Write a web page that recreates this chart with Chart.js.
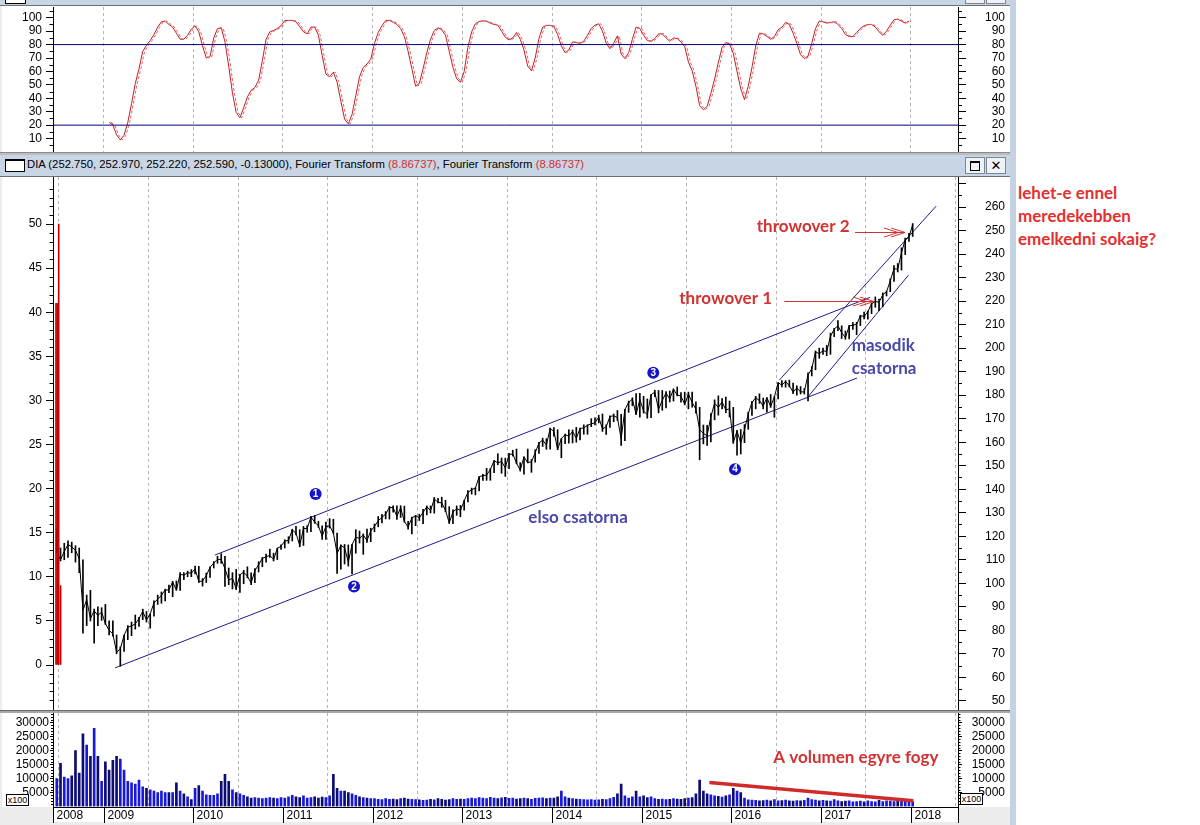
<!DOCTYPE html>
<html>
<head>
<meta charset="utf-8">
<title>DIA - csatornák</title>
<script src="https://cdn.jsdelivr.net/npm/chart.js@4.4.1/dist/chart.umd.min.js"></script>
<style>
  html, body { margin: 0; padding: 0; }
  body { width: 1200px; height: 825px; position: relative; overflow: hidden; background: #fff;
         font-family: 'Liberation Sans', Arial, sans-serif; }
  .abs { position: absolute; }
  canvas { position: absolute; left: 0; }
  .btn { position: absolute; width: 18px; height: 15px; border: 1px solid #7c8794; background: #eef2f7;
         font: bold 13px/15px 'DejaVu Sans', sans-serif; text-align: center; color: #000; }
  .x100 { position: absolute; width: 21px; height: 10px; border: 1px solid #000; background: #fff;
          font: 9px/10px 'Liberation Sans', Arial, sans-serif; text-align: center; }
  .question { position: absolute; left: 1018px; top: 181px; color: #e3302f;
              font: bold 17px/23px Lato, 'Open Sans', sans-serif; white-space: nowrap; }
</style>
</head>
<body>
<!-- window frame -->
<div class="abs" style="left:0;top:0;width:1010px;height:825px;background:#ececec"></div>
<div class="abs" style="left:1010px;top:0;width:6px;height:825px;background:#c4d2e2"></div>
<div class="abs" style="left:0;top:0;width:1010px;height:5px;background:#c8d5e5;border-bottom:1px solid #6f6f6f"></div>
<div class="abs" style="left:5px;top:-8px;width:19px;height:10px;border:1px solid #000;background:#fff"></div>
<div class="btn" style="left:965px;top:-13px"></div>
<div class="btn" style="left:986px;top:-13px"></div>

<div class="abs" style="left:2px;top:6px;width:1008px;height:146px;background:#fff"></div>
<div class="abs" style="left:0;top:152px;width:1010px;height:3px;background:#bdbdbd;border-top:1px solid #8a8a8a;box-sizing:border-box"></div>
<div class="abs" style="left:0;top:155px;width:1010px;height:21px;background:#c8d5e5;border-bottom:1px solid #6f6f6f">
  <div class="abs" style="left:5px;top:4px;width:18px;height:10px;border:1px solid #000;border-top-width:2px;background:#fff"></div>
  <div class="abs" style="left:27px;top:3px;font-size:11.3px;white-space:nowrap;color:#000">DIA (252.750, 252.970, 252.220, 252.590, -0.13000), Fourier Transform <span style="color:#d03030">(8.86737)</span>, Fourier Transform <span style="color:#d03030">(8.86737)</span></div>
  <div class="btn" style="left:965px;top:2px"><div class="abs" style="left:4px;top:3px;width:8px;height:7px;border:1.5px solid #000;border-top-width:2px"></div></div>
  <div class="btn" style="left:986px;top:2px">✕</div>
</div>
<div class="abs" style="left:2px;top:177px;width:1008px;height:533px;background:#fff"></div>
<div class="abs" style="left:0;top:710px;width:1010px;height:3px;background:#a8a8a8;border-top:1px solid #6a6a6a;box-sizing:border-box"></div>
<div class="abs" style="left:2px;top:713px;width:1008px;height:94px;background:#fff"></div>
<div class="abs" style="left:53px;top:806px;width:906px;height:16px;background:#fff"></div>

<canvas id="osc" width="1010" height="146" style="top:6px"></canvas>
<canvas id="main" width="1010" height="533" style="top:177px"></canvas>
<canvas id="vol" width="1010" height="112" style="top:713px"></canvas>

<div class="x100" style="left:6px;top:794px">x100</div>
<div class="x100" style="left:960px;top:793px">x100</div>

<div class="question">lehet-e ennel<br>meredekebben<br>emelkedni sokaig?</div>

<script>
// half-month bars; the first one is the second half of June 2008
const START = 2008 * 24 + 11;
const halfMonthDate = i => (START + i + 0.5) / 24;

const X_MIN = 2008.437;
const X_MAX = 2018.526;

const yearTicks = [2009, 2010, 2011, 2012, 2013, 2014, 2015, 2016, 2017, 2018];
const yearLabels = ['2008', '2009', '2010', '2011', '2012', '2013', '2014', '2015', '2016', '2017', '2018'];

const priceLow = [
  113, 109.5, 110, 111, 113, 109, 104.5, 78.8, 82, 84, 74.5, 82, 84.2,
  82.5, 78, 77.5, 70, 64.7, 71, 76, 77.7, 80.5, 81.7, 84.5, 83.5, 80.9, 86, 91, 91.5, 92.5, 96, 94.3, 97, 97, 101.5, 102.8, 102.8,
  104, 100.3, 98.8, 100.3, 102.5, 106.5, 108.5, 108.5, 98.7, 99.4, 97.6, 97.3, 96.1, 99.8, 102.3, 99.4, 100.3, 104.8, 107, 109, 111, 109.5, 110.1, 114.4,
  115, 117, 118, 120.6, 115.5, 116.1, 121.7, 122, 125.5, 123.8, 118.7, 118.6, 123.5, 121.2, 104.2, 106, 108.2, 107.3, 104, 112.8, 117.1, 112.3, 117.4, 117.7,
  121.9, 124, 125.7, 127.4, 127.3, 130.2, 127.2, 128, 126, 123, 121, 124.5, 126.7, 125.3, 129.1, 129.9, 129.8, 134.2, 132.3, 130.4, 125.4, 125.4, 128.9, 128.3,
  131.1, 134.6, 137.9, 137.6, 139.3, 143.7, 143.8, 143.8, 147, 150.4, 146.8, 145.5, 148.7, 154.1, 150.8, 147.7, 146.4, 151.2, 147.2, 151.5, 155.2, 158.2, 157, 157,
  162.6, 156.8, 153.4, 159.4, 159.6, 159.7, 160, 161, 163.4, 163.4, 166.6, 167.3, 168.2, 164.6, 163.3, 166.3, 168.7, 169.3, 158.6, 160.7, 172.7, 175.5, 171.8, 170.7,
  172.4, 170.2, 170.4, 179.4, 172.5, 173.6, 174.6, 177.1, 177.5, 179.7, 177, 175.9, 174.2, 174.9, 172.4, 152.5, 159.3, 158.6, 160.1, 169.5, 171.5, 174.2, 172.5, 170.7,
  159.5, 154.5, 155, 159.8, 165.5, 171.4, 174.2, 176.5, 174.2, 172.8, 174.8, 170.6, 178.4, 183.5, 183.4, 183.5, 180.6, 180, 180.5, 180.5, 177.6, 188.2, 190.8, 195.7,
  197.3, 196.8, 197.4, 204.9, 207.4, 204.1, 203.8, 203.9, 208, 205.7, 209.6, 212.4, 212.3, 214.7, 217.4, 215.9, 217.6, 222.2, 224, 228.4, 232.4, 233.2, 239.8, 245.4,
  247.5
];
const priceHigh = [
  123, 115, 117, 118, 117.5, 116, 115, 110, 95, 97, 89, 90, 89.6,
  91, 84, 84, 78, 73, 78, 82, 83.5, 86.5, 85.5, 89, 88, 87, 92.5, 95, 96.3, 97.5, 99.2, 100.8, 101, 104.5, 104.5, 105.2, 105.8,
  107.3, 107.2, 102, 104.3, 107, 109.2, 111.5, 112.6, 111.5, 106.5, 104.5, 105.9, 103.8, 105.5, 107, 104.4, 106.2, 109.2, 111, 112.4, 114.5, 112.8, 115, 116.3,
  118.5, 119.8, 123, 124.2, 122.8, 124.2, 124.5, 128.5, 128.8, 126.4, 124.4, 126, 127.5, 127.2, 121.4, 116.4, 116.5, 116.3, 116.6, 122.8, 122.2, 121, 123, 123.4,
  125.2, 128.4, 129.3, 130.5, 132.7, 132.9, 132.9, 133, 132.8, 126.3, 128.2, 128.9, 129.4, 131.5, 132.9, 132.9, 136.5, 136.1, 136.6, 135.3, 132.6, 131.2, 132.9, 133.1,
  135.3, 139.4, 140.5, 140.6, 145.4, 146.3, 148.9, 148.8, 152.2, 155.1, 153.3, 153.2, 155.3, 156.6, 157.1, 151.3, 153.8, 157.1, 152.6, 156.8, 160, 161.7, 161.5, 166,
  166.2, 165.3, 161.6, 163.5, 165.3, 165.2, 166.3, 166, 167.4, 167.4, 170, 170.4, 171.5, 172, 167.4, 171.2, 172, 173.5, 171.9, 174, 177.5, 178.9, 180.7, 180.8,
  179.5, 178.4, 180.3, 182.1, 182, 182, 181.5, 181.8, 182.7, 183.5, 181.1, 181.3, 181.3, 181.3, 177.2, 174.8, 167.3, 167.2, 172.2, 178, 179.7, 178.6, 179.2, 177.5,
  174.8, 165, 165.4, 167.5, 172.8, 177.4, 179.5, 180.6, 178.8, 179, 180.3, 179.4, 185.4, 186.2, 186.2, 186.4, 185.2, 184, 183.7, 182.8, 189.5, 192.2, 198.8, 200,
  200, 201.2, 206.4, 208.4, 211.7, 209.5, 207.3, 209.7, 210.9, 211, 214, 215.3, 215.8, 219.2, 221.8, 220.9, 223.5, 224.3, 229.5, 235.1, 236, 242.7, 246.8, 248.8,
  253
];
const priceClose = [
  113.5, 110, 113.5, 116.5, 115.5, 114, 110.5, 88.5, 93, 85, 88.3, 86.3, 87.8,
  82.8, 80, 78.5, 70.6, 72.2, 77.8, 81.3, 81.9, 82.7, 85, 88, 84.4, 87, 91.7, 93.2, 94.9, 97.2, 97.1, 100.6, 97.1, 103.9, 103.4, 104.5, 104.3,
  106.1, 100.7, 101, 103.3, 106.8, 108.6, 110.2, 110.1, 106.2, 101.4, 102.1, 97.7, 103.6, 104.7, 103, 100.1, 105.4, 107.9, 110.6, 111.2, 111.9, 110.1, 114.8, 115.8,
  118, 118.2, 122.7, 121.3, 116.1, 123.2, 123.4, 128.1, 126.1, 124.4, 120, 124.1, 124.4, 121.4, 112.7, 116.1, 115.1, 109.1, 116.4, 119.6, 119.1, 120.5, 118.2, 122.2,
  124.2, 126.6, 128, 129.5, 132.3, 132.1, 128.5, 132.1, 126.3, 123.9, 127.7, 128.8, 127.8, 130.1, 132.6, 130.9, 135.9, 134.4, 134.2, 131, 125.7, 130.3, 131.7, 131,
  135.1, 138.6, 139.8, 140.5, 145.3, 145.8, 146, 148.4, 152.2, 151.2, 151.8, 149.1, 154.8, 155, 151.1, 148.1, 153.8, 151.3, 151.7, 155.5, 159.6, 160.9, 158.8, 165.8,
  164.6, 157, 161.5, 163.2, 162.6, 164.6, 161.7, 165.8, 166.1, 167.2, 167.8, 168.3, 170.6, 165.6, 166.6, 170.9, 171.3, 170.4, 161.4, 173.9, 176.9, 178.3, 171.8, 178.2,
  173.2, 171.7, 180.2, 181.3, 174, 177.8, 180.9, 178.4, 182.5, 180.1, 179.6, 176.2, 180.5, 176.9, 174.1, 165.3, 163.7, 162.8, 170.8, 176.6, 174.8, 177.2, 173.7, 174.2,
  159.9, 164.7, 159.7, 165.2, 172.1, 176.9, 178.9, 177.7, 175.4, 178.9, 175.2, 179.3, 185.3, 184.3, 185.8, 184, 181.3, 183.1, 181.4, 181.4, 188.7, 191.2, 198.5, 197.6,
  198.9, 198.6, 205, 208.1, 209.5, 206.6, 204.5, 209.4, 209.8, 210.1, 213.8, 213.5, 215.5, 218.9, 219.9, 219.5, 222.7, 224, 228.6, 233.8, 233.6, 240.6, 246.2, 247.2,
  252.6
];
// volume in hundreds of shares
const volume = [
  10000, 15500, 10500, 10000, 11000, 20000, 12000, 26000, 22000, 18000, 28000, 18000, 9000,
  16000, 13000, 16500, 18000, 17000, 13000, 9000, 8500, 8000, 9500, 7000, 6500, 6000, 5500, 5000, 5500, 5000, 5000, 5000, 8500, 5500, 4500, 3500, 2500,
  6500, 7500, 5500, 4200, 4000, 4000, 4500, 9000, 11500, 9000, 6000, 5000, 4500, 4000, 3500, 3000, 3200, 3000, 2800, 3000, 3200, 3000, 2800, 3200,
  3000, 3500, 4000, 3500, 3200, 3800, 3000, 3200, 3500, 3000, 3400, 3200, 3800, 11500, 6500, 5500, 5500, 5000, 4500, 4000, 3500, 3200, 3000, 2800,
  2800, 2600, 2500, 2800, 2600, 2700, 2500, 2800, 3000, 2700, 2600, 2500, 2400, 2200, 2300, 2600, 2400, 2800, 2600, 2300, 2500, 2800, 2600, 2700,
  2600, 2800, 3000, 2800, 3200, 3000, 2800, 3300, 3000, 2800, 3100, 3300, 2900, 3000, 2700, 2800, 3000, 2800, 2600, 2900, 3000, 3100, 2800, 3000,
  3000, 3500, 5500, 3500, 3000, 2800, 2700, 2600, 2500, 2400, 2500, 2300, 2400, 2600, 2500, 2800, 3300, 4500, 8000, 3800, 3000, 3500, 5500, 3500,
  3800, 3200, 3500, 2800, 2600, 2700, 2500, 2600, 2800, 2700, 2600, 2800, 3000, 3200, 4500, 9500, 5500, 4500, 4200, 3800, 3600, 3400, 3800, 4200,
  6500, 5500, 5000, 3000, 2400, 2300, 2200, 2000, 2100, 2300, 2000, 2500, 2000, 2100, 2300, 2000, 1900, 2100, 2000, 2200, 3000, 2500, 2300, 2000,
  2200, 2000, 1900, 2500, 2000, 1800, 1900, 2000, 1700, 1800, 1900, 1700, 2000, 1800, 1700, 2200, 1800, 2000, 1900, 1800, 2100, 1900, 2000, 1900,
  1800
];
// oscillator (0-100); no value before it warms up and for the last bar
const oscillator = [
  null, null, null, null, null, null, null, null, null, null, null, null, null, null,
  22, 20.2, 12.8, 9, 12.5, 22, 36, 51, 62, 75,
  79.5, 83, 87.5, 93, 97, 97.5, 95, 93, 88.5, 84,
  84, 87, 91.5, 94, 89.5, 79, 70, 71, 85, 92,
  92.5, 82, 64, 44, 29.5, 25.5, 33, 41, 46, 48,
  53.5, 68, 84, 89.5, 90.5, 92, 94, 98, 98, 98,
  97, 93.3, 89.5, 88, 93, 93, 87, 72, 58, 56,
  59.5, 52, 38, 24.5, 21, 28, 42, 56, 63, 65.5,
  69, 81, 89, 94, 98, 98, 96.7, 95, 92, 86,
  75, 62, 49, 51, 62, 74, 84, 90.5, 92.5, 91,
  87, 75, 63, 54.5, 52, 60, 78, 89.5, 95.5, 97.3,
  97.7, 97.3, 96, 95, 94.5, 90, 85.5, 83.5, 85, 89,
  84, 76, 64, 60.5, 70, 84.5, 93, 94.3, 94.3, 93.5,
  87.5, 79, 74, 76, 82, 81.5, 81, 82.5, 87, 92,
  94.5, 95.5, 90, 81, 77, 81, 86.5, 73, 69.5, 74,
  84, 93, 92, 87, 83, 82.5, 84.5, 88, 88, 85,
  82.5, 85, 84.5, 82, 78.5, 67, 60.5, 49, 34.5, 31.5,
  34, 43.5, 54.5, 66.5, 78, 81.5, 80.5, 73.5, 60, 47,
  39, 49, 63, 79, 88.5, 88, 86, 84, 86, 91,
  93, 96.5, 95, 88.5, 81, 72.5, 69.5, 71.5, 81, 92,
  97.5, 97, 96, 96.5, 97, 95, 92, 87.5, 86, 86,
  89, 92, 94, 95, 95, 93, 89.5, 87, 90, 94.5,
  98.5, 99, 97.5, 96, 97.5,
  null
];
const oscLevels = [20, 80];

const fourierDates = [2008.4705, 2008.485, 2008.5006, 2008.5218];
const fourierValues = [41, 41, 50, 9];

// hand-drawn trend channels: [start, end] in date / price
const channelDates = [[2010.243, 2017.545], [2009.128, 2017.40], [2016.534, 2018.282], [2016.841, 2017.975]];
const channelPrices = [[112.0, 221.6], [64.0, 187.3], [186.4, 260.4], [178.7, 231.1]];

const markerDates = [2011.365, 2011.793, 2015.129, 2016.04];
const markerPrices = [138.0, 98.6, 189.5, 148.5];

const arrowDates = [[2016.591, 2017.589], [2017.379, 2017.936]];
const arrowPrices = [220.0, 249.4];

const noteTexts = ['throwover 1', 'throwover 2', 'masodik', 'csatorna', 'elso csatorna'];
const noteDates = [2015.419, 2016.283, 2017.341, 2017.341, 2013.736];
const notePrices = [221.2, 251.9, 201.3, 191.4, 128.1];

const volTrendDates = [2015.754, 2018.028];
const volTrendValues = [8570, 2040];
const volNote = 'A volumen egyre fogy';
const volNoteDate = 2016.467;
const volNoteValue = 17600;

const RED = '#d23232';
const BLUE = '#4848a8';
const NOTE_FONT = "bold 17px Lato, 'Open Sans', sans-serif";
const noteColors = [RED, RED, BLUE, BLUE, BLUE];

Chart.defaults.font.family = "'Liberation Sans', Arial, sans-serif";
Chart.defaults.font.size = 12;
Chart.defaults.color = '#000';
Chart.defaults.animation = false;
Chart.defaults.events = [];
Chart.defaults.plugins.legend.display = false;
Chart.defaults.plugins.tooltip.enabled = false;

function timeAxis(height) {
  return {
    type: 'linear', min: X_MIN, max: X_MAX, offset: false,
    afterBuildTicks: s => { s.ticks = yearTicks.map(v => ({ value: v })); },
    afterFit: s => { s.height = height; s.paddingLeft = 0; s.paddingRight = 0; },
    ticks: { display: false },
    grid: { color: '#b4b4b4', lineWidth: 1, drawTicks: false },
    border: { display: false, dash: [3, 3] },
  };
}

function valueAxis(side, min, max, majors, tickLen, pad, width, label) {
  return {
    type: 'linear', position: side, min: min, max: max,
    afterBuildTicks: s => { s.ticks = majors.map(v => ({ value: v })); },
    afterFit: s => { s.width = width; s.paddingTop = 0; s.paddingBottom = 0; },
    ticks: {
      autoSkip: false, padding: pad, color: '#000',
      crossAlign: side === 'right' ? 'far' : 'near',
      callback: label || (v => String(v)),
    },
    grid: { drawOnChartArea: false, drawTicks: true, tickLength: tickLen, tickColor: '#000', tickWidth: 1 },
    border: { display: true, color: '#000', width: 1 },
  };
}

function range(from, to, step) {
  const out = [];
  for (let v = from; v <= to; v += step) out.push(v);
  return out;
}

const minorTicks = {
  id: 'minorTicks',
  afterDraw(chart, args, opts) {
    const { ctx, chartArea } = chart;
    ctx.save();
    ctx.strokeStyle = '#000';
    ctx.lineWidth = 1;
    ctx.beginPath();
    for (const m of opts.list || []) {
      const s = chart.scales[m.id];
      const n = Math.round((m.to - m.from) / m.step);
      for (let k = 0; k <= n; k++) {
        const v = m.from + k * m.step;
        if (m.skip && Math.abs(v % m.skip) < 1e-6) continue;
        const y = Math.round(s.getPixelForValue(v)) + 0.5;
        if (y < chartArea.top || y > chartArea.bottom) continue;
        if (s.position === 'left') {
          ctx.moveTo(s.right, y); ctx.lineTo(s.right - m.len, y);
        } else {
          ctx.moveTo(s.left, y); ctx.lineTo(s.left + m.len, y);
        }
      }
    }
    ctx.stroke();
    ctx.restore();
  }
};

const priceNotes = {
  id: 'priceNotes',
  afterDatasetsDraw(chart) {
    const { ctx, scales: { x, yR } } = chart;
    ctx.save();
    ctx.strokeStyle = RED;
    ctx.lineWidth = 1;
    arrowDates.forEach((d, k) => {
      const y = Math.round(yR.getPixelForValue(arrowPrices[k])) + 0.5;
      const x0 = x.getPixelForValue(d[0]);
      const x1 = x.getPixelForValue(d[1]);
      ctx.beginPath();
      ctx.moveTo(x0, y); ctx.lineTo(x1, y);
      for (const back of [0, 7]) {
        ctx.moveTo(x1 - back - 14, y - 4.5); ctx.lineTo(x1 - back, y); ctx.lineTo(x1 - back - 14, y + 4.5);
      }
      ctx.stroke();
    });
    ctx.font = NOTE_FONT;
    ctx.textBaseline = 'middle';
    ctx.textAlign = 'left';
    noteTexts.forEach((txt, k) => {
      ctx.fillStyle = noteColors[k];
      ctx.fillText(txt, x.getPixelForValue(noteDates[k]), yR.getPixelForValue(notePrices[k]));
    });
    markerDates.forEach((t, k) => {
      const cx = x.getPixelForValue(t);
      const cy = yR.getPixelForValue(markerPrices[k]);
      ctx.beginPath();
      ctx.arc(cx, cy, 6, 0, Math.PI * 2);
      ctx.fillStyle = '#1414c8';
      ctx.fill();
      ctx.fillStyle = '#fff';
      ctx.font = "bold 10px 'Liberation Sans', Arial, sans-serif";
      ctx.textAlign = 'center';
      ctx.fillText(String(k + 1), cx, cy + 0.5);
    });
    ctx.restore();
  }
};

const volumeExtras = {
  id: 'volumeExtras',
  afterDatasetsDraw(chart) {
    const { ctx, scales: { x, y } } = chart;
    ctx.save();
    ctx.strokeStyle = '#d02b2b';
    ctx.lineWidth = 3.5;
    ctx.beginPath();
    ctx.moveTo(x.getPixelForValue(volTrendDates[0]), y.getPixelForValue(volTrendValues[0]));
    ctx.lineTo(x.getPixelForValue(volTrendDates[1]), y.getPixelForValue(volTrendValues[1]));
    ctx.stroke();
    ctx.font = NOTE_FONT;
    ctx.fillStyle = RED;
    ctx.textBaseline = 'middle';
    ctx.fillText(volNote, x.getPixelForValue(volNoteDate), y.getPixelForValue(volNoteValue));
    ctx.restore();
  },
  afterDraw(chart) {
    // date row under the volume panel
    const { ctx, chartArea: a, scales: { x } } = chart;
    const top = Math.round(a.bottom) + 0.5;
    const bottom = top + 15.5;
    ctx.save();
    ctx.strokeStyle = '#000';
    ctx.lineWidth = 1;
    ctx.beginPath();
    ctx.moveTo(a.left, top); ctx.lineTo(a.right + 1, top);
    const edges = [a.left, a.right].concat(yearTicks.map(v => x.getPixelForValue(v)));
    for (const px of edges) {
      const p = Math.round(px) + 0.5;
      ctx.moveTo(p, top); ctx.lineTo(p, bottom);
    }
    ctx.stroke();
    ctx.fillStyle = '#000';
    ctx.font = "12px 'Liberation Sans', Arial, sans-serif";
    ctx.textBaseline = 'middle';
    yearLabels.forEach((lab, k) => {
      const px = k === 0 ? a.left : x.getPixelForValue(yearTicks[k - 1]);
      ctx.fillText(lab, Math.round(px) + 3.5, top + 8);
    });
    ctx.restore();
  }
};

const dates = priceClose.map((_, i) => halfMonthDate(i));
const lag = 1 / 48;

// oscillator panel
new Chart(document.getElementById('osc'), {
  type: 'line',
  data: {
    datasets: [
      { data: [{ x: X_MIN, y: oscLevels[0] }, { x: X_MAX, y: oscLevels[0] }],
        borderColor: '#00007a', borderWidth: 1, pointRadius: 0 },
      { data: [{ x: X_MIN, y: oscLevels[1] }, { x: X_MAX, y: oscLevels[1] }],
        borderColor: '#00007a', borderWidth: 1, pointRadius: 0 },
      { data: dates.map((t, i) => ({ x: t + lag, y: oscillator[i] })).filter(p => p.y !== null),
        borderColor: '#e06060', borderWidth: 1, borderDash: [3, 2], pointRadius: 0 },
      { data: dates.map((t, i) => ({ x: t, y: oscillator[i] })).filter(p => p.y !== null),
        borderColor: '#c01e24', borderWidth: 1, pointRadius: 0 },
    ]
  },
  options: {
    responsive: false,
    layout: { padding: { left: 0, right: 5, top: 1, bottom: 0 } },
    scales: {
      x: timeAxis(0),
      y: valueAxis('left', 0, 108, range(10, 100, 10), 7, 4, 53),
      y2: valueAxis('right', 0, 108, range(10, 100, 10), 8, 4, 47),
    },
    plugins: { minorTicks: { list: [
      { id: 'y', from: 5, to: 105, step: 10, len: 3.5 },
      { id: 'y2', from: 5, to: 105, step: 10, len: 4 },
    ] } }
  },
  plugins: [minorTicks]
});

// price panel
new Chart(document.getElementById('main'), {
  type: 'bar',
  data: {
    datasets: [
      { type: 'bar', yAxisID: 'yL', grouped: false, barThickness: 1, borderWidth: 0,
        backgroundColor: '#c80000',
        data: fourierDates.map((t, k) => ({ x: t, y: fourierValues[k] })) },
      { type: 'bar', yAxisID: 'yR', grouped: false, barThickness: 1, borderWidth: 0,
        backgroundColor: '#000',
        data: dates.map((t, i) => ({ x: t, y: [priceLow[i], priceHigh[i]] })) },
      { type: 'line', yAxisID: 'yR', borderColor: '#000', borderWidth: 1, pointRadius: 0,
        data: dates.map((t, i) => ({ x: t, y: priceClose[i] })) },
    ].concat(channelDates.map((d, k) => ({
      type: 'line', yAxisID: 'yR', borderColor: '#1c1c8c', borderWidth: 1, pointRadius: 0,
      data: [{ x: d[0], y: channelPrices[k][0] }, { x: d[1], y: channelPrices[k][1] }]
    })))
  },
  options: {
    responsive: false,
    layout: { padding: { left: 0, right: 5, top: 0, bottom: 0 } },
    scales: {
      x: timeAxis(0),
      yL: valueAxis('left', -5.1, 55.33, range(0, 50, 5), 7, 4, 53),
      yR: valueAxis('right', 46.1, 272.8, range(50, 270, 10), 8, 4, 47, v => (v > 260 ? '' : String(v))),
    },
    plugins: { minorTicks: { list: [
      { id: 'yL', from: -5, to: 55, step: 1, skip: 5, len: 3.5 },
      { id: 'yR', from: 55, to: 265, step: 10, len: 4 },
    ] } }
  },
  plugins: [minorTicks, priceNotes]
});

// volume panel
new Chart(document.getElementById('vol'), {
  type: 'bar',
  data: {
    datasets: [
      { yAxisID: 'y', grouped: false, barThickness: 2, borderWidth: 0,
        backgroundColor: priceClose.map((c, i) => (i > 0 && c < priceClose[i - 1] ? '#0c0c72' : '#1818d8')),
        data: dates.map((t, i) => ({ x: t, y: volume[i] })) },
    ]
  },
  options: {
    responsive: false,
    layout: { padding: { left: 0, right: 5, top: 0, bottom: 0 } },
    scales: {
      x: timeAxis(18.5),
      y: valueAxis('left', 0, 33475, range(5000, 30000, 5000), 3, 1, 53),
      y2: valueAxis('right', 0, 33475, range(5000, 30000, 5000), 4, 4, 47),
    },
    plugins: { minorTicks: { list: [
      { id: 'y', from: 1000, to: 33000, step: 1000, skip: 5000, len: 2 },
      { id: 'y2', from: 1000, to: 33000, step: 1000, skip: 5000, len: 2.5 },
    ] } }
  },
  plugins: [minorTicks, volumeExtras]
});
</script>
</body>
</html>
